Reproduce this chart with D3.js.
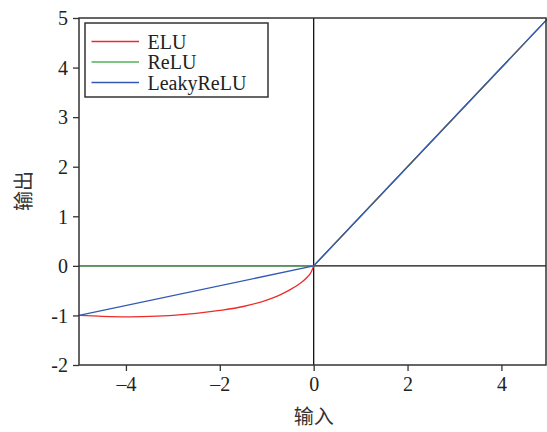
<!DOCTYPE html>
<html>
<head>
<meta charset="utf-8">
<script src="https://cdn.jsdelivr.net/npm/d3@7"></script>
<style>
  body { margin: 0; background: #fff; }
  svg text { font-family: "Liberation Serif", "DejaVu Serif", serif; }
  .cjk { font-family: "Noto Sans CJK SC", sans-serif; }
</style>
</head>
<body>
<svg width="547" height="432"></svg>
<script>
// values
var eluX = [-5, -4.5, -4, -3.5, -3, -2.5, -2, -1.5, -1, -0.75, -0.5, -0.3, -0.15, -0.05, 0, 5];
var eluY = [-1.0, -1.02, -1.03, -1.02, -1.0, -0.96, -0.9, -0.82, -0.69, -0.6, -0.48, -0.36, -0.24, -0.12, 0, 5];
var reluX = [-5, 0, 5];
var reluY = [0, 0, 5];
var leakyX = [-5, 0, 5];
var leakyY = [-1, 0, 5];

var seriesNames = ["ELU", "ReLU", "LeakyReLU"];
var seriesColors = ["#ee2b2b", "#55b158", "#3359b3"];

var xTicks = [-4, -2, 0, 2, 4];
var yTicks = [-2, -1, 0, 1, 2, 3, 4, 5];

var svg = d3.select("svg"),
  margin = {top: 18, right: 1, bottom: 67, left: 79},
  width = +svg.attr("width") - margin.left - margin.right,
  height = +svg.attr("height") - margin.top - margin.bottom;

var x = d3.scaleLinear().domain([-5, 4.95]).range([0, width]),
  y = d3.scaleLinear().domain([-2, 5]).range([height, 0]);

var g = svg.append("g")
  .attr("transform", "translate(" + margin.left + "," + margin.top + ")");

var axisColor = "#333";

// zero lines
g.append("line").attr("x1", x(0)).attr("x2", x(0)).attr("y1", 0).attr("y2", height)
  .attr("stroke", "#111").attr("stroke-width", 1.3);
g.append("line").attr("x1", 0).attr("x2", width).attr("y1", y(0)).attr("y2", y(0))
  .attr("stroke", "#111").attr("stroke-width", 1.3);

// series: smooth left branch, straight right branch
var smooth = d3.line().curve(d3.curveMonotoneX)
  .x(function(d) { return x(d[0]); })
  .y(function(d) { return y(d[1]); });
var straight = d3.line()
  .x(function(d) { return x(d[0]); })
  .y(function(d) { return y(d[1]); });

function branches(xs, ys) {
  var pts = d3.zip(xs, ys);
  var neg = pts.filter(function(p) { return p[0] <= 0; }),
    pos = pts.filter(function(p) { return p[0] >= 0; });
  return smooth(neg) + straight(pos);
}

[[eluX, eluY], [reluX, reluY], [leakyX, leakyY]].forEach(function(s, i) {
  g.append("path")
    .attr("fill", "none")
    .attr("stroke", seriesColors[i])
    .attr("stroke-width", 1.3)
    .attr("d", branches(s[0], s[1]));
});

// frame
g.append("rect").attr("width", width).attr("height", height)
  .attr("fill", "none").attr("stroke", axisColor).attr("stroke-width", 1.5);

// axes
var xAxis = g.append("g")
  .attr("transform", "translate(0," + height + ")")
  .call(d3.axisBottom(x).tickValues(xTicks).tickSize(6).tickPadding(6)
    .tickFormat(function(d) { return d < 0 ? "\u2013" + Math.abs(d) : d; }));
var yAxis = g.append("g")
  .call(d3.axisLeft(y).tickValues(yTicks).tickSize(6).tickPadding(5)
    .tickFormat(function(d) { return d < 0 ? "-" + Math.abs(d) : d; }));
[xAxis, yAxis].forEach(function(a) {
  a.select(".domain").remove();
  a.selectAll("line").attr("stroke", axisColor).attr("stroke-width", 1.3);
  a.selectAll("text").attr("fill", "#222").style("font-size", "20px")
    .style("font-family", "'Liberation Serif', serif");
});
yAxis.selectAll("text").attr("dy", "0.34em");

// axis titles
svg.append("text").attr("class", "cjk")
  .attr("x", margin.left + x(0)).attr("y", 424)
  .attr("text-anchor", "middle").attr("fill", "#333")
  .style("font-size", "20px").text("输入");
svg.append("text").attr("class", "cjk")
  .attr("transform", "translate(31,191) rotate(-90)")
  .attr("text-anchor", "middle").attr("fill", "#333")
  .style("font-size", "20px").text("输出");

// legend
var legend = g.append("g").attr("transform", "translate(6,5)");
legend.append("rect").attr("width", 183).attr("height", 74)
  .attr("fill", "#fff").attr("stroke", axisColor).attr("stroke-width", 1.5);
seriesNames.forEach(function(name, i) {
  var ly = 18.5 + i * 20.5;
  legend.append("line").attr("x1", 6.5).attr("x2", 54).attr("y1", ly).attr("y2", ly)
    .attr("stroke", seriesColors[i]).attr("stroke-width", 1.3);
  legend.append("text").attr("x", 62.5).attr("y", ly).attr("dy", "0.35em")
    .attr("fill", "#222").style("font-size", "20px").text(name);
});
</script>
</body>
</html>
